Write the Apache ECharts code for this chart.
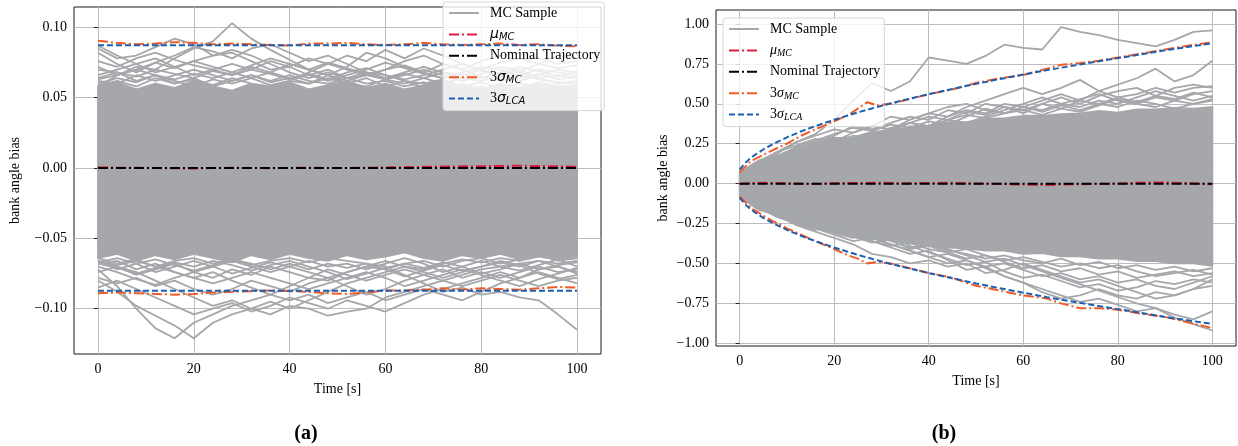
<!DOCTYPE html>
<html><head><meta charset="utf-8">
<script src="https://cdn.jsdelivr.net/npm/echarts@6.0.0/dist/echarts.min.js"></script>
<style>html,body{margin:0;padding:0;background:#fff}#c{width:1238px;height:446px}</style>
</head><body><div id="c"></div>
<script>
// ---------- tick labels ----------
const X_TICKS = [0, 20, 40, 60, 80, 100];
const Y_TICKS_A = [-0.10, -0.05, 0, 0.05, 0.10];
const Y_TICKS_B = [-1, -0.75, -0.5, -0.25, 0, 0.25, 0.5, 0.75, 1];
const LEGEND_NAMES = ['MC Sample', 'mu_MC', 'Nominal Trajectory', 'sigma_MC', 'sigma_LCA'];

// ---------- time grids ----------
const T4 = [0,4,8,12,16,20,24,28,32,36,40,44,48,52,56,60,64,68,72,76,80,84,88,92,96,100];
const T5 = [0,5,10,15,20,25,30,35,40,45,50,55,60,65,70,75,80,85,90,95,100];
const T_ENDS = [0, 100];

// ---------- panel (a) ----------
const A_BAND_UPPER = [0.058,0.061,0.056,0.06,0.057,0.062,0.058,0.055,0.06,0.057,0.061,0.056,0.059,0.062,0.057,0.06,0.056,0.059,0.062,0.058,0.056,0.06,0.057,0.061,0.058,0.059];
const A_BAND_LOWER = [-0.064,-0.061,-0.066,-0.062,-0.065,-0.061,-0.064,-0.067,-0.062,-0.065,-0.061,-0.064,-0.066,-0.062,-0.065,-0.063,-0.06,-0.064,-0.066,-0.062,-0.064,-0.061,-0.065,-0.062,-0.064,-0.063];
const A_MC_U1 = [0.058,0.066,0.072,0.07,0.078,0.085,0.09,0.103,0.092,0.084,0.077,0.07,0.066,0.06,0.064,0.058,0.062,0.057,0.06,0.055,0.058,0.054,0.057,0.055,0.058,0.056];
const A_MC_U2 = [0.085,0.078,0.08,0.086,0.092,0.088,0.08,0.082,0.076,0.07,0.072,0.066,0.07,0.064,0.06,0.062,0.058,0.061,0.057,0.06,0.056,0.059,0.055,0.058,0.056,0.057];
const A_MC_U3 = [0.082,0.074,0.068,0.075,0.08,0.086,0.083,0.078,0.085,0.088,0.082,0.076,0.08,0.074,0.068,0.066,0.062,0.06,0.063,0.058,0.061,0.057,0.06,0.058,0.055,0.057];
const A_MC_U4 = [0.06,0.064,0.061,0.066,0.062,0.058,0.063,0.06,0.064,0.059,0.062,0.068,0.074,0.08,0.076,0.084,0.078,0.085,0.08,0.074,0.07,0.066,0.07,0.064,0.06,0.062];
const A_MC_U5 = [0.07,0.068,0.062,0.066,0.06,0.064,0.058,0.062,0.066,0.061,0.064,0.06,0.066,0.072,0.082,0.078,0.072,0.068,0.074,0.07,0.076,0.08,0.082,0.078,0.074,0.076];
const A_MC_U6 = [0.066,0.07,0.074,0.068,0.072,0.066,0.07,0.074,0.07,0.076,0.072,0.078,0.074,0.07,0.066,0.07,0.073,0.068,0.064,0.068,0.072,0.07,0.066,0.07,0.068,0.066];
const A_MC_U7 = [0.062,0.06,0.066,0.062,0.066,0.07,0.066,0.062,0.066,0.062,0.066,0.062,0.06,0.064,0.068,0.064,0.068,0.072,0.068,0.064,0.062,0.066,0.062,0.066,0.07,0.068];
const A_MC_U8 = [0.059,0.062,0.058,0.064,0.06,0.063,0.059,0.064,0.06,0.058,0.062,0.06,0.064,0.06,0.058,0.063,0.06,0.064,0.068,0.066,0.07,0.075,0.078,0.074,0.08,0.078];
const A_MC_U9 = [0.087,0.08,0.074,0.078,0.072,0.076,0.08,0.084,0.08,0.074,0.068,0.064,0.068,0.064,0.066,0.07,0.076,0.08,0.074,0.07,0.065,0.062,0.066,0.063,0.061,0.06];
const A_MC_U10 = [0.064,0.068,0.065,0.07,0.067,0.064,0.069,0.066,0.072,0.068,0.064,0.067,0.063,0.068,0.071,0.066,0.063,0.066,0.07,0.074,0.069,0.065,0.068,0.064,0.066,0.064];
const A_MC_U11 = [0.072,0.066,0.07,0.075,0.071,0.076,0.072,0.068,0.064,0.068,0.074,0.07,0.066,0.062,0.066,0.063,0.067,0.064,0.06,0.064,0.067,0.072,0.069,0.074,0.071,0.073];
const A_MC_U12 = [0.063,0.066,0.07,0.066,0.063,0.067,0.064,0.068,0.073,0.078,0.074,0.07,0.075,0.071,0.067,0.063,0.066,0.07,0.066,0.062,0.065,0.062,0.064,0.067,0.063,0.065];
const A_MC_U13 = [0.076,0.072,0.078,0.082,0.077,0.073,0.07,0.066,0.07,0.067,0.063,0.066,0.062,0.066,0.07,0.075,0.071,0.067,0.064,0.067,0.064,0.068,0.072,0.069,0.065,0.069];
const A_MC_L1 = [-0.072,-0.084,-0.1,-0.114,-0.121,-0.11,-0.104,-0.098,-0.094,-0.09,-0.084,-0.078,-0.08,-0.074,-0.07,-0.072,-0.068,-0.066,-0.07,-0.066,-0.064,-0.068,-0.065,-0.062,-0.066,-0.064];
const A_MC_L2 = [-0.08,-0.088,-0.098,-0.105,-0.112,-0.121,-0.11,-0.104,-0.1,-0.095,-0.1,-0.094,-0.088,-0.082,-0.078,-0.074,-0.07,-0.072,-0.068,-0.065,-0.067,-0.064,-0.066,-0.063,-0.065,-0.064];
const A_MC_L3 = [-0.066,-0.07,-0.074,-0.08,-0.086,-0.092,-0.098,-0.094,-0.1,-0.104,-0.098,-0.1,-0.105,-0.102,-0.1,-0.092,-0.088,-0.084,-0.08,-0.076,-0.072,-0.07,-0.068,-0.066,-0.068,-0.066];
const A_MC_L4 = [-0.064,-0.068,-0.065,-0.07,-0.066,-0.064,-0.068,-0.065,-0.069,-0.066,-0.064,-0.067,-0.064,-0.066,-0.068,-0.07,-0.076,-0.082,-0.088,-0.085,-0.09,-0.088,-0.092,-0.094,-0.104,-0.115];
const A_MC_L5 = [-0.068,-0.066,-0.072,-0.068,-0.074,-0.078,-0.074,-0.08,-0.085,-0.09,-0.094,-0.09,-0.096,-0.092,-0.088,-0.094,-0.09,-0.086,-0.09,-0.094,-0.088,-0.082,-0.078,-0.074,-0.078,-0.082];
const A_MC_L6 = [-0.074,-0.07,-0.076,-0.072,-0.068,-0.074,-0.078,-0.072,-0.076,-0.07,-0.074,-0.078,-0.072,-0.076,-0.08,-0.076,-0.072,-0.076,-0.072,-0.078,-0.074,-0.078,-0.074,-0.07,-0.074,-0.072];
const A_MC_L7 = [-0.078,-0.082,-0.078,-0.084,-0.08,-0.086,-0.09,-0.086,-0.08,-0.084,-0.088,-0.082,-0.078,-0.084,-0.09,-0.086,-0.08,-0.076,-0.08,-0.084,-0.08,-0.076,-0.08,-0.084,-0.08,-0.078];
const A_MC_L8 = [-0.066,-0.072,-0.068,-0.074,-0.07,-0.066,-0.07,-0.066,-0.07,-0.074,-0.07,-0.066,-0.07,-0.068,-0.072,-0.068,-0.064,-0.068,-0.074,-0.07,-0.066,-0.07,-0.073,-0.069,-0.065,-0.07];
const A_MC_L9 = [-0.085,-0.08,-0.086,-0.092,-0.098,-0.104,-0.1,-0.096,-0.102,-0.098,-0.092,-0.096,-0.1,-0.094,-0.098,-0.102,-0.096,-0.09,-0.086,-0.082,-0.078,-0.074,-0.078,-0.072,-0.07,-0.074];
const A_MC_L10 = [-0.068,-0.071,-0.075,-0.071,-0.067,-0.07,-0.066,-0.069,-0.073,-0.069,-0.066,-0.07,-0.074,-0.079,-0.075,-0.071,-0.068,-0.071,-0.067,-0.07,-0.075,-0.072,-0.068,-0.072,-0.069,-0.067];
const A_MC_L11 = [-0.07,-0.074,-0.079,-0.083,-0.078,-0.074,-0.07,-0.075,-0.071,-0.067,-0.07,-0.074,-0.078,-0.074,-0.07,-0.066,-0.07,-0.074,-0.078,-0.074,-0.07,-0.067,-0.07,-0.066,-0.07,-0.075];
const A_MC_L12 = [-0.066,-0.069,-0.066,-0.07,-0.074,-0.078,-0.082,-0.078,-0.074,-0.078,-0.082,-0.086,-0.082,-0.078,-0.074,-0.078,-0.084,-0.08,-0.076,-0.072,-0.076,-0.08,-0.084,-0.079,-0.075,-0.071];
const A_MC_L13 = [-0.067,-0.064,-0.068,-0.065,-0.069,-0.073,-0.069,-0.065,-0.068,-0.072,-0.068,-0.072,-0.068,-0.071,-0.068,-0.072,-0.077,-0.073,-0.069,-0.073,-0.07,-0.066,-0.069,-0.075,-0.079,-0.076];
const A_MU = [0.0005,0.0003,0.0002,0,-0.0002,-0.0003,0,0.0002,0,-0.0001,0.0001,0.0002,0.0001,0,0.0002,0.0004,0.0006,0.0009,0.0011,0.0012,0.0013,0.0015,0.0016,0.0015,0.0012,0.001];
const A_NOMINAL = [0, 0];
const A_SIG_MC_UP = [0.0905,0.089,0.088,0.0885,0.0895,0.089,0.088,0.0885,0.088,0.0875,0.087,0.0885,0.0885,0.089,0.088,0.0875,0.088,0.089,0.088,0.0875,0.088,0.0885,0.0875,0.088,0.087,0.0865];
const A_SIG_MC_LO = [-0.089,-0.0885,-0.089,-0.0895,-0.09,-0.0895,-0.0885,-0.088,-0.0875,-0.087,-0.0875,-0.088,-0.089,-0.0895,-0.0885,-0.087,-0.087,-0.0865,-0.0855,-0.0865,-0.0855,-0.086,-0.0865,-0.0855,-0.0845,-0.085];
const A_LCA_UP = [0.0873, 0.0873];
const A_LCA_LO = [-0.0873, -0.0873];

// ---------- panel (b) ----------
const B_BAND_UPPER = [0.07,0.145,0.175,0.225,0.245,0.285,0.29,0.325,0.33,0.355,0.36,0.385,0.385,0.405,0.41,0.425,0.425,0.435,0.44,0.455,0.445,0.465,0.465,0.475,0.47,0.48];
const B_BAND_LOWER = [-0.08,-0.165,-0.195,-0.25,-0.275,-0.305,-0.32,-0.345,-0.355,-0.375,-0.38,-0.4,-0.405,-0.42,-0.42,-0.44,-0.435,-0.455,-0.455,-0.47,-0.47,-0.485,-0.485,-0.5,-0.5,-0.515];
const B_MC_U1 = [0.05,0.12,0.19,0.26,0.31,0.4,0.52,0.63,0.58,0.64,0.79,0.77,0.75,0.8,0.87,0.85,0.84,0.98,0.95,0.93,0.9,0.88,0.86,0.9,0.95,0.96];
const B_MC_U2 = [0.03,0.1,0.14,0.2,0.22,0.26,0.3,0.28,0.33,0.38,0.36,0.42,0.46,0.44,0.5,0.48,0.52,0.56,0.52,0.58,0.62,0.66,0.72,0.64,0.68,0.77];
const B_MC_U3 = [0.02,0.12,0.18,0.16,0.22,0.26,0.24,0.3,0.34,0.4,0.44,0.42,0.48,0.52,0.56,0.6,0.56,0.6,0.65,0.58,0.54,0.56,0.6,0.57,0.6,0.61];
const B_MC_U4 = [0.04,0.08,0.14,0.22,0.26,0.3,0.36,0.34,0.38,0.42,0.4,0.46,0.44,0.5,0.48,0.44,0.5,0.54,0.5,0.55,0.58,0.6,0.55,0.6,0.62,0.6];
const B_MC_U5 = [0.06,0.14,0.2,0.26,0.3,0.34,0.32,0.36,0.42,0.4,0.44,0.48,0.5,0.46,0.44,0.48,0.46,0.5,0.48,0.52,0.5,0.54,0.58,0.55,0.52,0.55];
const B_MC_U6 = [0.03,0.1,0.16,0.2,0.24,0.22,0.28,0.32,0.3,0.36,0.34,0.4,0.38,0.42,0.46,0.5,0.54,0.5,0.53,0.56,0.52,0.5,0.54,0.52,0.56,0.58];
const B_MC_U7 = [0.05,0.13,0.17,0.23,0.27,0.31,0.35,0.33,0.37,0.35,0.39,0.37,0.42,0.47,0.44,0.46,0.43,0.47,0.45,0.49,0.53,0.5,0.48,0.52,0.5,0.52];
const B_MC_U8 = [0.06,0.12,0.2,0.24,0.28,0.26,0.32,0.36,0.34,0.38,0.42,0.4,0.45,0.43,0.48,0.46,0.5,0.47,0.52,0.5,0.54,0.51,0.55,0.53,0.57,0.54];
const B_MC_U9 = [0.04,0.1,0.15,0.21,0.25,0.29,0.27,0.31,0.35,0.38,0.36,0.4,0.43,0.41,0.44,0.48,0.45,0.49,0.46,0.5,0.48,0.52,0.5,0.47,0.5,0.53];
const B_MC_L1 = [-0.05,-0.12,-0.18,-0.2,-0.24,-0.28,-0.3,-0.34,-0.38,-0.42,-0.46,-0.5,-0.48,-0.53,-0.58,-0.62,-0.66,-0.7,-0.74,-0.72,-0.76,-0.8,-0.78,-0.84,-0.88,-0.92];
const B_MC_L2 = [-0.04,-0.1,-0.16,-0.22,-0.26,-0.3,-0.33,-0.36,-0.4,-0.44,-0.42,-0.48,-0.54,-0.52,-0.58,-0.62,-0.68,-0.72,-0.7,-0.66,-0.7,-0.72,-0.68,-0.7,-0.66,-0.64];
const B_MC_L3 = [-0.06,-0.14,-0.2,-0.26,-0.3,-0.34,-0.38,-0.44,-0.46,-0.5,-0.48,-0.52,-0.5,-0.56,-0.54,-0.5,-0.54,-0.58,-0.62,-0.6,-0.64,-0.68,-0.72,-0.7,-0.66,-0.6];
const B_MC_L4 = [-0.03,-0.09,-0.15,-0.19,-0.23,-0.27,-0.31,-0.35,-0.33,-0.39,-0.43,-0.47,-0.51,-0.49,-0.55,-0.59,-0.57,-0.61,-0.65,-0.63,-0.67,-0.65,-0.61,-0.63,-0.6,-0.62];
const B_MC_L5 = [-0.07,-0.15,-0.21,-0.25,-0.29,-0.27,-0.33,-0.37,-0.35,-0.41,-0.39,-0.43,-0.47,-0.45,-0.49,-0.53,-0.51,-0.55,-0.53,-0.57,-0.55,-0.59,-0.57,-0.55,-0.58,-0.56];
const B_MC_L6 = [-0.05,-0.11,-0.17,-0.21,-0.25,-0.29,-0.27,-0.31,-0.35,-0.33,-0.37,-0.41,-0.45,-0.49,-0.47,-0.51,-0.55,-0.59,-0.63,-0.67,-0.71,-0.75,-0.78,-0.82,-0.85,-0.8];
const B_MC_L7 = [-0.04,-0.12,-0.18,-0.24,-0.28,-0.32,-0.36,-0.34,-0.38,-0.42,-0.46,-0.44,-0.48,-0.52,-0.5,-0.54,-0.58,-0.56,-0.6,-0.58,-0.62,-0.6,-0.64,-0.66,-0.62,-0.58];
const B_MC_L8 = [-0.06,-0.13,-0.19,-0.23,-0.27,-0.31,-0.34,-0.32,-0.36,-0.4,-0.38,-0.42,-0.44,-0.47,-0.45,-0.48,-0.5,-0.47,-0.51,-0.49,-0.53,-0.51,-0.54,-0.52,-0.55,-0.53];
const B_MC_L9 = [-0.05,-0.14,-0.2,-0.22,-0.26,-0.3,-0.32,-0.36,-0.39,-0.37,-0.41,-0.43,-0.41,-0.45,-0.48,-0.46,-0.49,-0.52,-0.5,-0.53,-0.51,-0.55,-0.58,-0.56,-0.54,-0.57];
const B_MU = [0,0.005,0.002,-0.003,0.003,0.004,0.006,0.002,0.004,0.005,0.001,-0.002,-0.006,-0.008,-0.004,-0.003,0.001,0.006,0.007,0.003,-0.004];
const B_NOMINAL = [0, 0];
const B_SIG_T = [0,1,2,3,5,7,10,13,16,20,23,25,27,29,32,36,40,45,50,55,60,65,68,72,76,80,85,90,95,100];
const B_LCA_UP = [0.087,0.124,0.152,0.175,0.214,0.247,0.29,0.327,0.36,0.4,0.428,0.446,0.463,0.479,0.503,0.532,0.56,0.593,0.625,0.655,0.683,0.711,0.726,0.746,0.767,0.786,0.81,0.835,0.857,0.879];
const B_LCA_LO = [-0.087,-0.124,-0.152,-0.175,-0.214,-0.247,-0.29,-0.327,-0.36,-0.4,-0.428,-0.446,-0.463,-0.479,-0.503,-0.532,-0.56,-0.593,-0.625,-0.655,-0.683,-0.711,-0.726,-0.746,-0.767,-0.786,-0.81,-0.835,-0.857,-0.879];
const B_SIG_MC_UP = [0.07,0.1,0.13,0.15,0.18,0.21,0.25,0.3,0.34,0.39,0.43,0.47,0.51,0.49,0.5,0.53,0.56,0.59,0.63,0.66,0.68,0.72,0.745,0.755,0.77,0.79,0.815,0.84,0.865,0.885];
const B_SIG_MC_LO = [-0.08,-0.11,-0.14,-0.165,-0.2,-0.235,-0.28,-0.32,-0.36,-0.41,-0.45,-0.47,-0.5,-0.49,-0.5,-0.53,-0.56,-0.59,-0.64,-0.67,-0.7,-0.72,-0.75,-0.78,-0.78,-0.79,-0.815,-0.835,-0.87,-0.905];

// ---------- styles ----------
const GRAY = '#a5a7aa', RED = '#dc1c3c', ORANGE = '#f25a26', BLUE = '#1a5fb4', BLACK = '#000000';
const DASHDOT = [10, 3, 2, 3];
const DASHED = [6, 3];
const SERIF = '"Liberation Serif", "Times New Roman", serif';

function pairs(xs, ys) { return xs.map((x, i) => [x, ys[i]]); }
function line(name, xs, ys, color, type, width, ax, z) {
  return { type: 'line', name: name, xAxisIndex: ax, yAxisIndex: ax, data: pairs(xs, ys),
    symbol: 'none', showSymbol: false, silent: true, animation: false, z: z,
    lineStyle: { color: color, width: width, type: type }, itemStyle: { color: color } };
}
// dense core of the MC samples: polygon between lower and upper envelopes
function band(xs, lo, hi, ax) {
  return { type: 'custom', name: 'band' + ax, xAxisIndex: ax, yAxisIndex: ax, silent: true, animation: false, z: 1,
    clip: true,
    data: xs.map((t, i) => [t, lo[i], hi[i]]),
    encode: { x: 0, y: [1, 2] },
    renderItem: function (params, api) {
      if (params.dataIndex !== 0) return null;
      const pts = [];
      for (let i = 0; i < xs.length; i++) pts.push(api.coord([xs[i], hi[i]]));
      for (let i = xs.length - 1; i >= 0; i--) pts.push(api.coord([xs[i], lo[i]]));
      return { type: 'polygon', shape: { points: pts }, style: { fill: GRAY, stroke: GRAY, lineWidth: 1.8, lineJoin: 'round' } };
    } };
}

const series = [];
// panel (a)
[A_MC_U1, A_MC_U2, A_MC_U3, A_MC_U4, A_MC_U5, A_MC_U6, A_MC_U7, A_MC_U8, A_MC_U9, A_MC_U10, A_MC_U11, A_MC_U12, A_MC_U13,
 A_MC_L1, A_MC_L2, A_MC_L3, A_MC_L4, A_MC_L5, A_MC_L6, A_MC_L7, A_MC_L8, A_MC_L9, A_MC_L10, A_MC_L11, A_MC_L12, A_MC_L13]
  .forEach(ys => series.push(line('MC Sample', T4, ys, GRAY, 'solid', 1.8, 0, 2)));
series.push(band(T4, A_BAND_LOWER, A_BAND_UPPER, 0));
series.push(line('mu_MC', T4, A_MU, RED, DASHDOT, 2, 0, 3));
series.push(line('Nominal Trajectory', T_ENDS, A_NOMINAL, BLACK, DASHDOT, 2, 0, 4));
series.push(line('sigma_MC', T4, A_SIG_MC_UP, ORANGE, DASHDOT, 2, 0, 5));
series.push(line('sigma_MC', T4, A_SIG_MC_LO, ORANGE, DASHDOT, 2, 0, 5));
series.push(line('sigma_LCA', T_ENDS, A_LCA_UP, BLUE, DASHED, 2, 0, 6));
series.push(line('sigma_LCA', T_ENDS, A_LCA_LO, BLUE, DASHED, 2, 0, 6));
// panel (b)
[B_MC_U1, B_MC_U2, B_MC_U3, B_MC_U4, B_MC_U5, B_MC_U6, B_MC_U7, B_MC_U8, B_MC_U9,
 B_MC_L1, B_MC_L2, B_MC_L3, B_MC_L4, B_MC_L5, B_MC_L6, B_MC_L7, B_MC_L8, B_MC_L9]
  .forEach(ys => series.push(line('MC Sample', T4, ys, GRAY, 'solid', 1.8, 1, 2)));
series.push(band(T4, B_BAND_LOWER, B_BAND_UPPER, 1));
series.push(line('mu_MC', T5, B_MU, RED, DASHDOT, 2, 1, 3));
series.push(line('Nominal Trajectory', T_ENDS, B_NOMINAL, BLACK, DASHDOT, 2, 1, 4));
series.push(line('sigma_MC', B_SIG_T, B_SIG_MC_UP, ORANGE, DASHDOT, 2, 1, 5));
series.push(line('sigma_MC', B_SIG_T, B_SIG_MC_LO, ORANGE, DASHDOT, 2, 1, 5));
series.push(line('sigma_LCA', B_SIG_T, B_LCA_UP, BLUE, DASHED, 2, 1, 6));
series.push(line('sigma_LCA', B_SIG_T, B_LCA_LO, BLUE, DASHED, 2, 1, 6));

function xAxis(gi) {
  return { type: 'value', gridIndex: gi, min: -5, max: 105,
    name: 'Time [s]', nameLocation: 'middle', nameGap: 28,
    nameTextStyle: { fontFamily: SERIF, fontSize: 14, color: '#000' },
    axisLine: { show: false },
    axisTick: { show: true, length: 4, customValues: X_TICKS, lineStyle: { color: '#222', width: 1 } },
    axisLabel: { customValues: X_TICKS, margin: 8, fontFamily: SERIF, fontSize: 14, color: '#000' },
    splitLine: { show: true, lineStyle: { color: '#bdbdbd', width: 1 } } };
}
function fmtY(v) { return (Math.abs(v) < 1e-9 ? '0.00' : v.toFixed(2)).replace('-', '\u2212'); }
function yAxis(gi, min, max, ticks, gap) {
  return { type: 'value', gridIndex: gi, min: min, max: max,
    name: 'bank angle bias', nameLocation: 'middle', nameGap: gap,
    nameTextStyle: { fontFamily: SERIF, fontSize: 14, color: '#000' },
    axisLine: { show: false },
    axisTick: { show: true, length: 4, customValues: ticks, lineStyle: { color: '#222', width: 1 } },
    axisLabel: { customValues: ticks, margin: 7, fontFamily: SERIF, fontSize: 14, color: '#000', formatter: fmtY },
    splitLine: { show: true, lineStyle: { color: '#bdbdbd', width: 1 } } };
}

function legendFor(left, top, mathFont) {
  const rich = {
    it: { fontFamily: mathFont, fontStyle: 'italic', fontSize: 14, lineHeight: 16, color: '#000' },
    n: { fontFamily: SERIF, fontSize: 14, lineHeight: 16, color: '#000' },
    sub: { fontFamily: mathFont, fontStyle: 'italic', fontSize: 10, lineHeight: 10, verticalAlign: 'bottom', color: '#000' }
  };
  return { data: LEGEND_NAMES, left: left, top: top, orient: 'vertical',
    itemWidth: 30, itemHeight: 14, itemGap: 5.4, padding: [3, 4, 4, 5],
    backgroundColor: 'rgba(255,255,255,0.8)', borderColor: '#d6d6d6', borderWidth: 1, borderRadius: 3,
    itemStyle: { opacity: 0 }, selectedMode: false,
    textStyle: { fontFamily: SERIF, fontSize: 14, lineHeight: 16, color: '#000', padding: [0, 0, 0, 6], rich: rich },
    formatter: function (name) {
      if (name === 'mu_MC') return '{it|\u03bc}{sub|MC}';
      if (name === 'sigma_MC') return '{n|3}{it|\u03c3}{sub|MC}';
      if (name === 'sigma_LCA') return '{n|3}{it|\u03c3}{sub|LCA}';
      return name;
    } };
}

const chart = echarts.init(document.getElementById('c'), null, { renderer: 'canvas' });
chart.setOption({
  animation: false,
  backgroundColor: '#ffffff',
  grid: [
    { left: 74, top: 7, width: 527, height: 347, show: true, borderColor: '#1a1a1a', borderWidth: 1, backgroundColor: 'transparent' },
    { left: 716, top: 10, width: 520, height: 336, show: true, borderColor: '#1a1a1a', borderWidth: 1, backgroundColor: 'transparent' }
  ],
  xAxis: [xAxis(0), xAxis(1)],
  yAxis: [yAxis(0, -0.1322, 0.1145, Y_TICKS_A, 52), yAxis(1, -1.017, 1.0875, Y_TICKS_B, 46)],
  legend: [legendFor(443, 2, '"DejaVu Sans", sans-serif'), legendFor(723, 18, SERIF)],
  graphic: [
    { type: 'text', x: 306, y: 434, style: { text: '(a)', fontFamily: SERIF, fontWeight: 'bold', fontSize: 20, fill: '#000', align: 'center', verticalAlign: 'middle' } },
    { type: 'text', x: 944, y: 434, style: { text: '(b)', fontFamily: SERIF, fontWeight: 'bold', fontSize: 20, fill: '#000', align: 'center', verticalAlign: 'middle' } }
  ],
  series: series
});
</script>
</body></html>
